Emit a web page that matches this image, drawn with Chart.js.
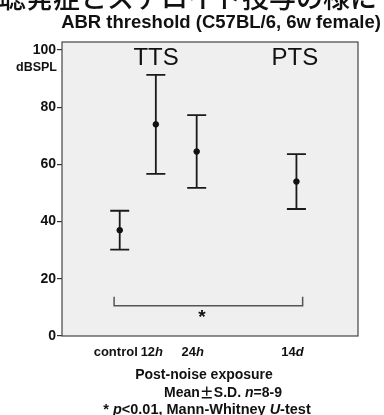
<!DOCTYPE html>
<html>
<head>
<meta charset="utf-8">
<script src="https://cdn.jsdelivr.net/npm/chart.js@4"></script>
<style>
  body { margin: 0; background: #fff; }
  #wrap { width: 384px; height: 415px; }
</style>
</head>
<body>
<div id="wrap"><canvas id="abrChart" width="384" height="415"></canvas></div>
<script>
// groups along the x axis (position on an arbitrary 0-10 axis)
let groups = ['control', '12', '24', '14'];
let groupUnits = ['', 'h', 'h', 'd'];
let groupX = [1.95, 3.17, 4.55, 7.92];

// ABR threshold, mean and S.D. (dB SPL)
let meanDb = [37, 74, 64.5, 54];
let sdDb = [6.8, 17.3, 12.7, 9.6];

let yTicks = [0, 20, 40, 60, 80, 100];

// significance bracket between control and 14d
let bracketFrom = 1.76;
let bracketTo = 8.13;
let bracketY = 10.6;
let bracketTop = 13.7;

const FONT = '"Liberation Sans", Arial, sans-serif';

// draw a line of text made of runs [text, italic, family], centred on cx
function drawRuns(ctx, runs, cx, y, size) {
    let fontOf = r => (r[1] ? 'italic ' : '') + 'bold ' + size + 'px ' + (r[2] || FONT);
    let total = 0;
    for (let r of runs) {
        ctx.font = fontOf(r);
        total += ctx.measureText(r[0]).width;
    }
    let x = cx - total / 2;
    ctx.textAlign = 'left';
    for (let r of runs) {
        ctx.font = fontOf(r);
        ctx.fillText(r[0], x, y);
        x += ctx.measureText(r[0]).width;
    }
}

let plotBox = {
    id: 'plotBox',
    beforeDraw(chart) {
        let ctx = chart.ctx;
        let a = chart.chartArea;
        ctx.save();
        ctx.fillStyle = '#efefef';
        ctx.fillRect(a.left, a.top, a.right - a.left, a.bottom - a.top);
        ctx.restore();
    },
    beforeDatasetsDraw(chart) {
        let ctx = chart.ctx;
        let xs = chart.scales.x;
        let ys = chart.scales.y;
        ctx.save();
        // error bars
        ctx.strokeStyle = '#1a1a1a';
        ctx.lineWidth = 1.8;
        for (let i = 0; i < groups.length; i++) {
            let px = xs.getPixelForValue(groupX[i]);
            let top = ys.getPixelForValue(meanDb[i] + sdDb[i]);
            let bot = ys.getPixelForValue(meanDb[i] - sdDb[i]);
            ctx.beginPath();
            ctx.moveTo(px, top);
            ctx.lineTo(px, bot);
            ctx.moveTo(px - 9.5, top);
            ctx.lineTo(px + 9.5, top);
            ctx.moveTo(px - 9.5, bot);
            ctx.lineTo(px + 9.5, bot);
            ctx.stroke();
        }
        // bracket
        ctx.strokeStyle = '#555';
        ctx.lineWidth = 1.5;
        let bx0 = xs.getPixelForValue(bracketFrom);
        let bx1 = xs.getPixelForValue(bracketTo);
        let by = ys.getPixelForValue(bracketY);
        let byTop = ys.getPixelForValue(bracketTop);
        ctx.beginPath();
        ctx.moveTo(bx0, byTop);
        ctx.lineTo(bx0, by);
        ctx.lineTo(bx1, by);
        ctx.lineTo(bx1, byTop);
        ctx.stroke();
        ctx.fillStyle = '#111';
        ctx.textAlign = 'center';
        ctx.textBaseline = 'middle';
        ctx.font = 'bold 19px ' + FONT;
        ctx.fillText('*', xs.getPixelForValue(4.73), ys.getPixelForValue(6.5));
        // TTS / PTS
        ctx.font = '24px ' + FONT;
        ctx.fillText('TTS', xs.getPixelForValue(3.18), ys.getPixelForValue(97));
        ctx.fillText('PTS', xs.getPixelForValue(7.87), ys.getPixelForValue(97));
        ctx.restore();
    },
    afterDraw(chart) {
        let ctx = chart.ctx;
        let a = chart.chartArea;
        let xs = chart.scales.x;
        ctx.save();
        ctx.strokeStyle = '#444';
        ctx.lineWidth = 1.2;
        ctx.strokeRect(a.left, a.top, a.right - a.left, a.bottom - a.top);

        ctx.fillStyle = '#111';
        // cut-off slide heading
        ctx.font = '500 27px "Noto Sans CJK JP"';
        ctx.textAlign = 'left';
        ctx.textBaseline = 'alphabetic';
        ctx.fillText('聴発症とステロイド投与の様に', -1, 7.5);
        ctx.textBaseline = 'middle';

        drawRuns(ctx, [['ABR threshold (C57BL/6, 6w female)', false]], 221, 23, 18.5);

        ctx.textAlign = 'right';
        ctx.font = 'bold 12.5px ' + FONT;
        ctx.fillText('dBSPL', 57, 68);

        // x labels
        for (let i = 0; i < groups.length; i++) {
            let px = xs.getPixelForValue(groupX[i]) - 4;
            drawRuns(ctx, [[groups[i], false], [groupUnits[i], true]], px, 352, 13);
        }
        drawRuns(ctx, [['Post-noise exposure', false]], 204, 375, 14);
        drawRuns(ctx, [['Mean', false], ['\u00b1', false, '"Noto Sans CJK JP"'], ['S.D. ', false], ['n', true], ['=8-9', false]], 223, 393, 14);
        drawRuns(ctx, [['* ', false], ['p', true], ['<0.01, Mann-Whitney ', false], ['U', true], ['-test', false]], 207, 410, 14.5);
        ctx.restore();
    }
};

let abrChart = new Chart(document.getElementById('abrChart'), {
    type: 'scatter',
    data: {
        datasets: [{
            label: 'ABR threshold',
            data: groups.map((g, i) => ({ x: groupX[i], y: meanDb[i] })),
            backgroundColor: '#111',
            borderColor: '#111',
            pointRadius: 2.8,
            pointHoverRadius: 2.8
        }]
    },
    options: {
        responsive: false,
        animation: false,
        devicePixelRatio: 1,
        layout: { padding: { left: 0, right: 26, top: 42, bottom: 0 } },
        plugins: {
            legend: { display: false },
            tooltip: { enabled: false }
        },
        scales: {
            x: {
                type: 'linear',
                min: 0,
                max: 10,
                grid: { display: false },
                border: { display: false },
                ticks: { display: false },
                afterFit: (s) => { s.height = 79; }
            },
            y: {
                min: 0,
                max: 102.8,
                afterBuildTicks: (s) => { s.ticks = yTicks.map(v => ({ value: v })); },
                afterFit: (s) => { s.width = 62; },
                grid: { drawOnChartArea: false, tickLength: 5, color: '#333', lineWidth: 1.2 },
                border: { display: false },
                ticks: {
                    color: '#111',
                    padding: 1,
                    font: { family: FONT, weight: 'bold', size: 14 }
                }
            }
        }
    },
    plugins: [plotBox]
});
</script>
</body>
</html>
